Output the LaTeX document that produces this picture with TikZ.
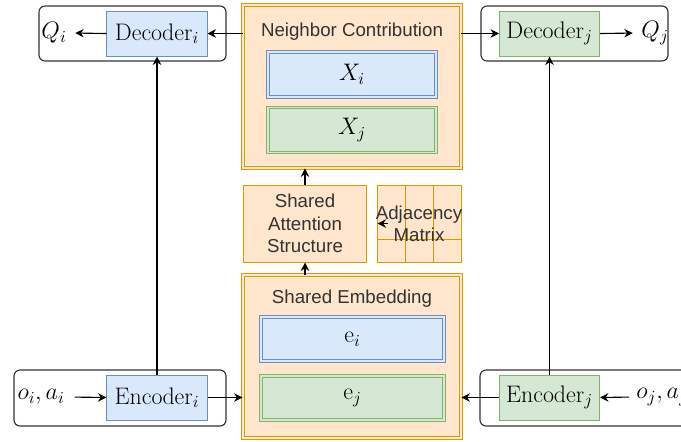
\RequirePackage{fix-cm}
\documentclass[tikz,border=0pt]{standalone}
\usepackage{amsmath,amssymb}
\usepackage{fontspec}
\usepackage{tikz}
\usepackage{xcolor}
\usetikzlibrary{arrows.meta}
\newfontfamily\sansf{Liberation Sans}
\definecolor{bluF}{HTML}{DAE8FC}\definecolor{bluL}{HTML}{6C8EBF}
\definecolor{grnF}{HTML}{D5E8D4}\definecolor{grnL}{HTML}{82B366}
\definecolor{orgF}{HTML}{FFE6CC}\definecolor{orgL}{HTML}{D79B00}
\definecolor{frm}{HTML}{333333}

\begin{document}
\begin{tikzpicture}[x=0.025cm,y=-0.025cm,
  txt/.style={font=\sansf\fontsize{13.3}{16}\selectfont,text=frm},
  mth/.style={font=\fontsize{17}{20}\selectfont,inner sep=2pt},
  blk/.style={draw=#1L,fill=#1F,line width=0.7pt,minimum width=2.5cm,minimum height=1.125cm,mth},
  dbl/.style={draw=#1L,double=#1F,double distance=1.4pt,line width=0.6pt,fill=#1F},
  arr/.style={-{Stealth[length=6pt,width=6pt]},line width=0.8pt,draw=black}]
  \useasboundingbox (0,0) rectangle (681,441);
  % frames round the agents
  \draw[frm,line width=0.8pt,rounded corners=0.15cm] (39,6) rectangle (226,61); \draw[frm,line width=0.8pt,rounded corners=0.15cm] (481,6) rectangle (668,61);
  \draw[frm,line width=0.8pt,rounded corners=0.15cm] (14,370) rectangle (226,426); \draw[frm,line width=0.8pt,rounded corners=0.15cm] (480,370) rectangle (700,426);
  \node[blk=blu] (decI) at (157,33.5) {$\mathrm{Decoder}_i$}; \node[blk=grn] (decJ) at (549.5,33.5) {$\mathrm{Decoder}_j$};
  \node[blk=blu] (encI) at (157,397.5) {$\mathrm{Encoder}_i$}; \node[blk=grn] (encJ) at (549.5,397.5) {$\mathrm{Encoder}_j$};
  \node[mth] (Qi) at (54,33) {$Q_i$}; \node[mth] (Qj) at (655,33) {$Q_j$};
  \node[mth] (oaI) at (41,397) {$o_i, a_i$}; \node[mth] (oaJ) at (662,397) {$o_j, a_j$};
  % neighbor contribution
  \node[dbl=org,minimum width=5.45cm,minimum height=4.075cm] (nc) at (352,86.5) {}; \node[txt] (ncT) at (352,32) {Neighbor Contribution};
  \node[dbl=blu,minimum width=4.2cm,minimum height=1.125cm,mth] (Xi) at (352,74.5) {$X_i$}; \node[dbl=grn,minimum width=4.2cm,minimum height=1.125cm,mth] (Xj) at (352,130) {$X_j$};
  % attention and adjacency
  \node[draw=orgL,fill=orgF,line width=0.7pt,minimum width=3.05cm,minimum height=1.925cm,txt,align=center] (sas) at (305,223.5) {Shared\\Attention\\Structure};
  \node[draw=orgL,fill=orgF,line width=0.7pt,minimum width=2.1cm,minimum height=1.925cm] (adj) at (419,223.5) {};
  \draw[orgL,line width=0.7pt] (405,185) -- (405,262) (433,185) -- (433,262) (377,239) -- (461,239);
  \node[txt,align=center,inner sep=0pt] (adjT) at (419,224) {Adjacency\\Matrix};
  % shared embedding
  \node[dbl=org,minimum width=5.45cm,minimum height=4.075cm] (se) at (352,356.5) {}; \node[txt] (seT) at (352,299) {Shared Embedding};
  \node[dbl=blu,minimum width=4.575cm,minimum height=1.1cm,mth] (ei) at (352.5,339) {$\mathrm{e}_i$}; \node[dbl=grn,minimum width=4.575cm,minimum height=1.1cm,mth] (ej) at (352.5,398) {$\mathrm{e}_j$};
  % connectors
  \draw[arr,shorten >=4pt] (decI.west) -- (Qi.east); \draw[arr,shorten >=4pt] (decJ.east) -- (Qj.west);
  \draw[arr] (nc.west |- decI.east) -- (decI.east); \draw[arr] (nc.east |- decJ.west) -- (decJ.west);
  \draw[arr] (encI.north) -- (decI.south); \draw[arr] (encJ.north) -- (decJ.south);
  \draw[arr,shorten <=5pt] (oaI.east) -- (encI.west); \draw[arr,shorten <=3pt] (oaJ.west) -- (encJ.east);
  \draw[arr] (encI.east) -- (se.west |- encI.east); \draw[arr] (encJ.west) -- (se.east |- encJ.west);
  \draw[arr] (sas.south |- se.north) -- (sas.south); \draw[arr] (sas.north) -- (sas.north |- nc.south);
  \draw[arr,shorten <=0.275cm,shorten >=0.275cm] (adj.west) -- (sas.east);
\end{tikzpicture}
\end{document}
